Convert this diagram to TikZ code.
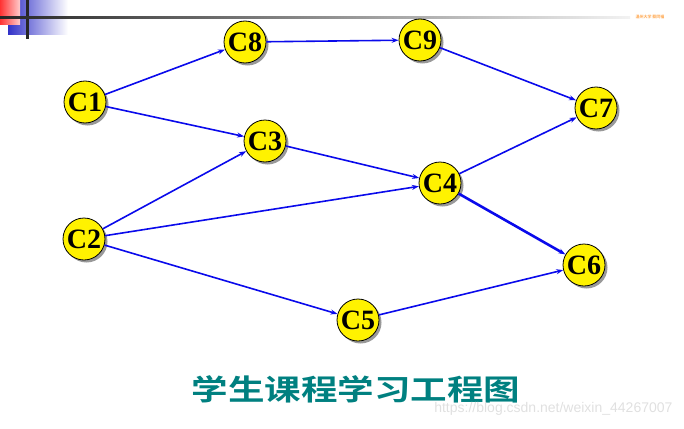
\documentclass[tikz,border=0pt]{standalone}
\usepackage{fontspec}
\setmainfont{Liberation Serif}
\newfontfamily\cjk{Noto Sans CJK SC Bold}
\newfontfamily\wmfont{Liberation Sans}
\usetikzlibrary{shadows,arrows.meta}
\definecolor{teal1}{RGB}{0,128,128}
\definecolor{edgeblue}{RGB}{10,10,235}
\definecolor{decoblue}{RGB}{50,50,200}
\begin{document}
\begin{tikzpicture}[x=1pt,y=-1pt,
  course/.style={circle,draw=black,line width=0.8pt,fill=yellow,minimum size=42pt,inner sep=0pt,
     font=\fontsize{28}{28}\selectfont\bfseries,
     drop shadow={shadow xshift=2.5pt,shadow yshift=-2.5pt,opacity=0.4,fill=black}},
  link/.style={draw=edgeblue,line width=1.6pt,-{Stealth[length=7pt,width=5pt]}},
  thick link/.style={link,line width=2.6pt}]
\useasboundingbox (0,0) rectangle (684,428);
% top-left decoration
\shade[left color=decoblue,right color=white] (8,0) rectangle (68,35);
\shade[top color=red!80,bottom color=red!20,left color=red!80, right color=red!20] (0,0) rectangle (20,25);
\fill[black!85] (26,0) rectangle (29,39);
\shade[left color=black!85,right color=black!5] (0,16.5) rectangle (630,19);
\node[text=orange!70,font=\fontsize{4}{4}\selectfont\cjk,anchor=west] (tag) at (632,17) {温州大学 蔡同福};
% nodes
\node[course] (C1) at (85,102) {C1};
\node[course] (C8) at (245,42) {C8};
\node[course] (C9) at (420,40) {C9};
\node[course] (C3) at (265,141) {C3};
\node[course] (C4) at (440,183) {C4};
\node[course] (C7) at (596,108) {C7};
\node[course] (C2) at (84,239) {C2};
\node[course] (C6) at (584,265) {C6};
\node[course] (C5) at (358,320) {C5};
% edges
\draw[link] (C1) -- (C8);
\draw[link] (C1) -- (C3);
\draw[link] (C8) -- (C9);
\draw[link] (C9) -- (C7);
\draw[link] (C3) -- (C4);
\draw[link] (C2) -- (C3);
\draw[link] (C2) -- (C4);
\draw[link] (C2) -- (C5);
\draw[link] (C4) -- (C7);
\draw[thick link] (C4) -- (C6);
\draw[link] (C5) -- (C6);
% title
\node[text=teal1,font=\fontsize{29}{29}\cjk,xscale=1.26] (title) at (356,389) {学生课程学习工程图};
\node[text=black!12,font=\fontsize{14}{14}\wmfont,anchor=east] (wm) at (676,409) {https://blog.csdn.net/weixin\_44267007};
\end{tikzpicture}
\end{document}
